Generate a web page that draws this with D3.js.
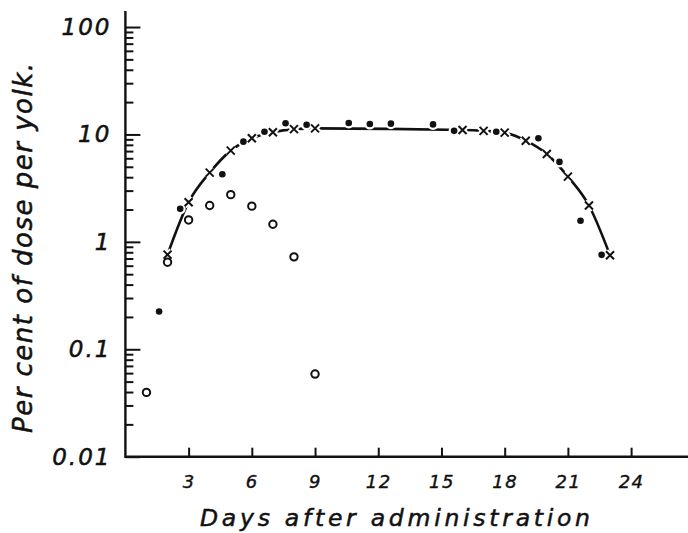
<!DOCTYPE html>
<html>
<head>
<meta charset="utf-8">
<script src="https://cdn.jsdelivr.net/npm/d3@7"></script>
<style>
  html, body { margin: 0; padding: 0; background: #fff; }
  svg { display: block; }
  text { font-family: "DejaVu Sans", sans-serif; font-style: italic; fill: #111; }
</style>
</head>
<body>
<svg id="chart" width="688" height="533"></svg>
<script>
// ---- data ----
const crossDays   = [2, 3, 4, 5, 6, 7, 8, 9, 16, 17, 18, 19, 20, 21, 22, 23];
const crossValues = [0.76, 2.34, 4.41, 7.07, 9.22, 10.5, 11.2, 11.4, 11.0, 10.8, 10.4, 8.75, 6.58, 4.05, 2.18, 0.75];

const filledDays   = [1.6, 2.6, 4.6, 5.6, 6.6, 7.6, 8.6, 10.6, 11.6, 12.6, 14.6, 15.6, 17.6, 19.6, 20.6, 21.6, 22.6];
const filledValues = [0.225, 2.03, 4.26, 8.57, 10.6, 12.7, 12.3, 12.8, 12.5, 12.6, 12.4, 10.8, 10.6, 9.22, 5.55, 1.57, 0.757];

const openDays   = [1, 2, 3, 4, 5, 6, 7, 8, 9];
const openValues = [0.0397, 0.647, 1.60, 2.18, 2.75, 2.15, 1.46, 0.725, 0.0588];

const xTicks = [3, 6, 9, 12, 15, 18, 21, 24];
const yMajorTicks = [0.01, 0.1, 1, 10, 100];
const yMajorLabels = ["0.01", "0.1", "1", "10", "100"];

const xLabel = "Days after administration";
const yLabel = "Per cent of dose per yolk.";

// ---- layout ----
const svg = d3.select("#chart");
const x = d3.scaleLinear().domain([0, 26.7]).range([125.4, 688]);
const y = d3.scaleLog().domain([0.01, 141]).range([456.7, 11]);

const ink = "#111";

// minor ticks
const yMinor = [];
[0.01, 0.1, 1, 10].forEach(d => { for (let k = 2; k <= 9; k++) yMinor.push(+(d * k).toPrecision(3)); });

const gMinor = svg.append("g").attr("transform", `translate(${x(0)},0)`)
  .call(d3.axisLeft(y).tickValues(yMinor).tickSize(-8).tickFormat(""));
gMinor.select(".domain").remove();
gMinor.selectAll(".tick line").attr("stroke", ink).attr("stroke-width", 2);

const gMajor = svg.append("g").attr("transform", `translate(${x(0)},0)`)
  .call(d3.axisLeft(y).tickValues(yMajorTicks).tickSize(-15).tickPadding(14)
        .tickFormat((d, i) => yMajorLabels[i]));
gMajor.select(".domain").remove();
gMajor.selectAll(".tick line").attr("stroke", ink).attr("stroke-width", 2);
gMajor.selectAll(".tick text").attr("font-size", 23).attr("letter-spacing", 2)
  .attr("font-family", "DejaVu Sans").attr("fill", ink)
  .attr("stroke", ink).attr("stroke-width", 0.5);

const gx = svg.append("g").attr("transform", `translate(0,${y(0.01)})`)
  .call(d3.axisBottom(x).tickValues(xTicks).tickSize(-9).tickPadding(19));
gx.select(".domain").remove();
gx.selectAll(".tick line").attr("stroke", ink).attr("stroke-width", 2);
gx.selectAll(".tick text").attr("font-size", 18).attr("letter-spacing", 1.5)
  .attr("font-family", "DejaVu Sans").attr("fill", ink)
  .attr("stroke", ink).attr("stroke-width", 0.4);

// axis lines
svg.append("path")
  .attr("d", `M${x(0)},${y(141)}V${y(0.01)}H${x(26.7)}`)
  .attr("fill", "none").attr("stroke", ink).attr("stroke-width", 2.4);

// curve through crosses
const crossPts = crossDays.map((d, i) => [x(d), y(crossValues[i])]);
svg.append("path")
  .attr("d", d3.line().curve(d3.curveMonotoneX)(crossPts))
  .attr("fill", "none").attr("stroke", ink).attr("stroke-width", 2.6);

// markers with white halos (gaps in the line)
const filledPts = filledDays.map((d, i) => [x(d), y(filledValues[i])]);
const openPts = openDays.map((d, i) => [x(d), y(openValues[i])]);
const xr = 4;
const crossPath = d => `M${d[0]-xr},${d[1]-xr}L${d[0]+xr},${d[1]+xr}M${d[0]-xr},${d[1]+xr}L${d[0]+xr},${d[1]-xr}`;

svg.append("g").selectAll("circle").data(filledPts).join("circle")
  .attr("cx", d => d[0]).attr("cy", d => d[1]).attr("r", 5.5).attr("fill", "#fff");
svg.append("g").selectAll("path").data(crossPts).join("path")
  .attr("d", crossPath).attr("stroke", "#fff").attr("stroke-width", 6);

svg.append("g").selectAll("circle").data(filledPts).join("circle")
  .attr("cx", d => d[0]).attr("cy", d => d[1]).attr("r", 3.3).attr("fill", ink);
svg.append("g").selectAll("path").data(crossPts).join("path")
  .attr("d", crossPath).attr("stroke", ink).attr("stroke-width", 2);
svg.append("g").selectAll("circle").data(openPts).join("circle")
  .attr("cx", d => d[0]).attr("cy", d => d[1]).attr("r", 3.7)
  .attr("fill", "#fff").attr("stroke", ink).attr("stroke-width", 2);

// axis titles
svg.append("text")
  .attr("x", 200).attr("y", 526)
  .attr("font-size", 23.5).attr("textLength", 390).attr("lengthAdjust", "spacing")
  .attr("stroke", ink).attr("stroke-width", 0.5)
  .text(xLabel);

svg.append("text")
  .attr("transform", "translate(32,433) rotate(-90)")
  .attr("font-size", 26).attr("textLength", 370).attr("lengthAdjust", "spacing")
  .attr("stroke", ink).attr("stroke-width", 0.5)
  .text(yLabel);
</script>
</body>
</html>
